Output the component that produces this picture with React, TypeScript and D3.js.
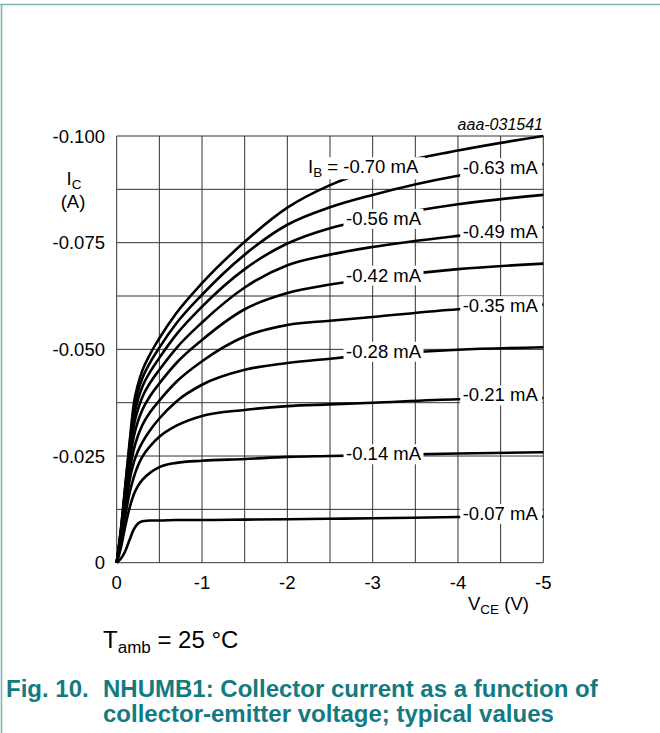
import React from 'react';
import * as d3 from 'd3';

// ---------- data ----------
const vce = [0, -0.05, -0.1, -0.15, -0.2, -0.25, -0.3, -0.4, -0.5, -0.7, -1, -1.5, -2, -2.5, -3, -4, -5];

const ib070 = [0, -0.0080, -0.0180, -0.0280, -0.0372, -0.0418, -0.0450, -0.0492, -0.0526, -0.0585, -0.0655, -0.0752, -0.0832, -0.0885, -0.0921, -0.0966, -0.1000];
const ib063 = [0, -0.0078, -0.0176, -0.0273, -0.0357, -0.0402, -0.0432, -0.0472, -0.0504, -0.0561, -0.0628, -0.0722, -0.0792, -0.0833, -0.0862, -0.0907, -0.0934];
const ib056 = [0, -0.0075, -0.0170, -0.0263, -0.0340, -0.0383, -0.0412, -0.0450, -0.0480, -0.0535, -0.0600, -0.0688, -0.0748, -0.0784, -0.0806, -0.0840, -0.0862];
const ib049 = [0, -0.0072, -0.0163, -0.0250, -0.0320, -0.0360, -0.0388, -0.0424, -0.0452, -0.0503, -0.0563, -0.0645, -0.0697, -0.0722, -0.0740, -0.0766, -0.0786];
const ib042 = [0, -0.0068, -0.0155, -0.0235, -0.0295, -0.0332, -0.0358, -0.0393, -0.0420, -0.0468, -0.0522, -0.0594, -0.0632, -0.0652, -0.0666, -0.0688, -0.0701];
const ib035 = [0, -0.0063, -0.0145, -0.0215, -0.0265, -0.0298, -0.0322, -0.0355, -0.0380, -0.0424, -0.0472, -0.0530, -0.0557, -0.0567, -0.0576, -0.0594, -0.0605];
const ib028 = [0, -0.0057, -0.0130, -0.0192, -0.0235, -0.0262, -0.0282, -0.0313, -0.0338, -0.0378, -0.0417, -0.0452, -0.0468, -0.0478, -0.0487, -0.0499, -0.0505];
const ib021 = [0, -0.0048, -0.0110, -0.0163, -0.0200, -0.0228, -0.0248, -0.0275, -0.0295, -0.0321, -0.0344, -0.0358, -0.0367, -0.0371, -0.0375, -0.0383, -0.0386];
const ib014 = [0, -0.0036, -0.0085, -0.0128, -0.0160, -0.0180, -0.0194, -0.0212, -0.0224, -0.0234, -0.0239, -0.0243, -0.0248, -0.0250, -0.0252, -0.0256, -0.0259];
const ib007 = [0, -0.0010, -0.0027, -0.0053, -0.0078, -0.0092, -0.0097, -0.0099, -0.0099, -0.0100, -0.0100, -0.0101, -0.0102, -0.0103, -0.0104, -0.0107, -0.0108];

const seriesValues = [ib070, ib063, ib056, ib049, ib042, ib035, ib028, ib021, ib014, ib007];
const seriesLabels = ['-0.70 mA', '-0.63 mA', '-0.56 mA', '-0.49 mA', '-0.42 mA', '-0.35 mA', '-0.28 mA', '-0.21 mA', '-0.14 mA', '-0.07 mA'];

const xTickValues = [0, -1, -2, -3, -4, -5];
const xTickLabels = ['0', '-1', '-2', '-3', '-4', '-5'];
const yTickValues = [0, -0.025, -0.05, -0.075, -0.1];
const yTickLabels = ['0', '-0.025', '-0.050', '-0.075', '-0.100'];
const xGridValues = [0, -0.5, -1, -1.5, -2, -2.5, -3, -3.5, -4, -4.5, -5];
const yGridValues = [0, -0.0125, -0.025, -0.0375, -0.05, -0.0625, -0.075, -0.0875, -0.1];

const figId = 'aaa-031541';
const captionNum = 'Fig. 10.';
const captionLine1 = 'NHUMB1: Collector current as a function of';
const captionLine2 = 'collector-emitter voltage; typical values';

// ---------- layout ----------
const W = 660;
const H = 733;
const FONT = '"Liberation Sans", Arial, Helvetica, sans-serif';
const TEAL = '#147a82';
const FRAME = '#80b4b7';
const FS = 18.5;

export default function App() {
  const x = d3.scaleLinear().domain([0, -5]).range([116.7, 543.3]);
  const y = d3.scaleLinear().domain([0, -0.1]).range([562.7, 136]);

  const line = d3
    .line<[number, number]>()
    .x((d) => x(d[0]))
    .y((d) => y(d[1]))
    .curve(d3.curveMonotoneX);

  // label layout: side, centre voltage, baseline offset
  const labelLayout = [
    { side: 'ib', cv: -2.91, dy: 0.7 },
    { side: 'r', cv: -4.5, dy: 4.4 },
    { side: 'l', cv: -3.13, dy: 8 },
    { side: 'r', cv: -4.5, dy: 6 },
    { side: 'l', cv: -3.13, dy: 4.3 },
    { side: 'r', cv: -4.5, dy: 5.3 },
    { side: 'l', cv: -3.13, dy: 3.5 },
    { side: 'r', cv: -4.5, dy: 2.8 },
    { side: 'l', cv: -3.13, dy: 5.3 },
    { side: 'r', cv: -4.5, dy: 3 },
  ];

  const x0 = x(0), x1 = x(-5), y0 = y(0), y1 = y(-0.1);

  return (
    <svg
      width={W}
      height={H}
      viewBox={`0 0 ${W} ${H}`}
      style={{ position: 'absolute', left: 0, top: 0, background: '#fff' }}
      fontFamily={FONT}
    >
      <rect x={0} y={0} width={W} height={H} fill="#fff" />
      {/* frame */}
      <line x1={0} x2={W} y1={4.5} y2={4.5} stroke={FRAME} strokeWidth={1.6} />
      <line x1={1.5} x2={1.5} y1={4.5} y2={H} stroke={FRAME} strokeWidth={1.6} />

      {/* grid */}
      {xGridValues.map((v, i) => (
        <line key={'gx' + i} x1={x(v)} x2={x(v)} y1={y1} y2={y0} stroke="#333" strokeWidth={1} />
      ))}
      {yGridValues.map((v, i) => (
        <line key={'gy' + i} x1={x0} x2={x1} y1={y(v)} y2={y(v)} stroke="#333" strokeWidth={1} />
      ))}

      {/* curves */}
      {seriesValues.map((vals, i) => (
        <path
          key={'c' + i}
          d={line(vce.map((v, k) => [v, vals[k]] as [number, number])) || ''}
          fill="none"
          stroke="#000"
          strokeWidth={2.6}
          strokeLinejoin="round"
        />
      ))}

      {/* curve labels */}
      {seriesValues.map((vals, i) => {
        const L = labelLayout[i];
        const interp = d3.scaleLinear().domain(vce).range(vals);
        const cy = y(interp(L.cv));
        const base = cy + L.dy;
        if (L.side === 'ib') {
          const tx = 308;
          return (
            <g key={'lb' + i}>
              <rect x={tx - 3} y={base - 16} width={120} height={22} fill="#fff" />
              <text x={tx} y={base} fontSize={FS} fill="#000">
                I<tspan fontSize={13.5} dy={4}>B</tspan>
                <tspan dy={-4}>{' = ' + seriesLabels[i]}</tspan>
              </text>
            </g>
          );
        }
        const tx = L.side === 'l' ? 346 : 462.7;
        const bw = L.side === 'l' ? 80 : 82;
        return (
          <g key={'lb' + i}>
            <rect x={tx - 2.5} y={base - 16} width={bw} height={20} fill="#fff" />
            <text x={tx} y={base} fontSize={FS} fill="#000">
              {seriesLabels[i]}
            </text>
          </g>
        );
      })}

      {/* y ticks */}
      {yTickValues.map((v, i) => (
        <text key={'yt' + i} x={105} y={y(v) + 6.6} fontSize={FS} textAnchor="end" fill="#000">
          {yTickLabels[i]}
        </text>
      ))}
      {/* x ticks */}
      {xTickValues.map((v, i) => (
        <text key={'xt' + i} x={x(v)} y={589} fontSize={FS} textAnchor="middle" fill="#000">
          {xTickLabels[i]}
        </text>
      ))}

      {/* axis titles */}
      <text x={66.5} y={185} fontSize={FS} fill="#000">
        I<tspan fontSize={13.5} dy={3.5}>C</tspan>
      </text>
      <text x={73} y={208} fontSize={FS} textAnchor="middle" fill="#000">
        (A)
      </text>
      <text x={468} y={610} fontSize={FS} fill="#000">
        V<tspan fontSize={13.5} dy={4}>CE</tspan>
        <tspan dy={-4}> (V)</tspan>
      </text>

      {/* figure id */}
      <text x={543} y={129.5} fontSize={16} fontStyle="italic" textAnchor="end" fill="#000">
        {figId}
      </text>

      {/* condition */}
      <text x={103} y={648} fontSize={24} fill="#000">
        T<tspan fontSize={17} dy={5}>amb</tspan>
        <tspan dy={-5}> = 25 °C</tspan>
      </text>

      {/* caption */}
      <text x={6} y={697} fontSize={24} fontWeight="bold" fill={TEAL}>
        {captionNum}
      </text>
      <text x={103} y={697} fontSize={24} fontWeight="bold" fill={TEAL}>
        {captionLine1}
      </text>
      <text x={103} y={722} fontSize={24} fontWeight="bold" fill={TEAL}>
        {captionLine2}
      </text>
    </svg>
  );
}
